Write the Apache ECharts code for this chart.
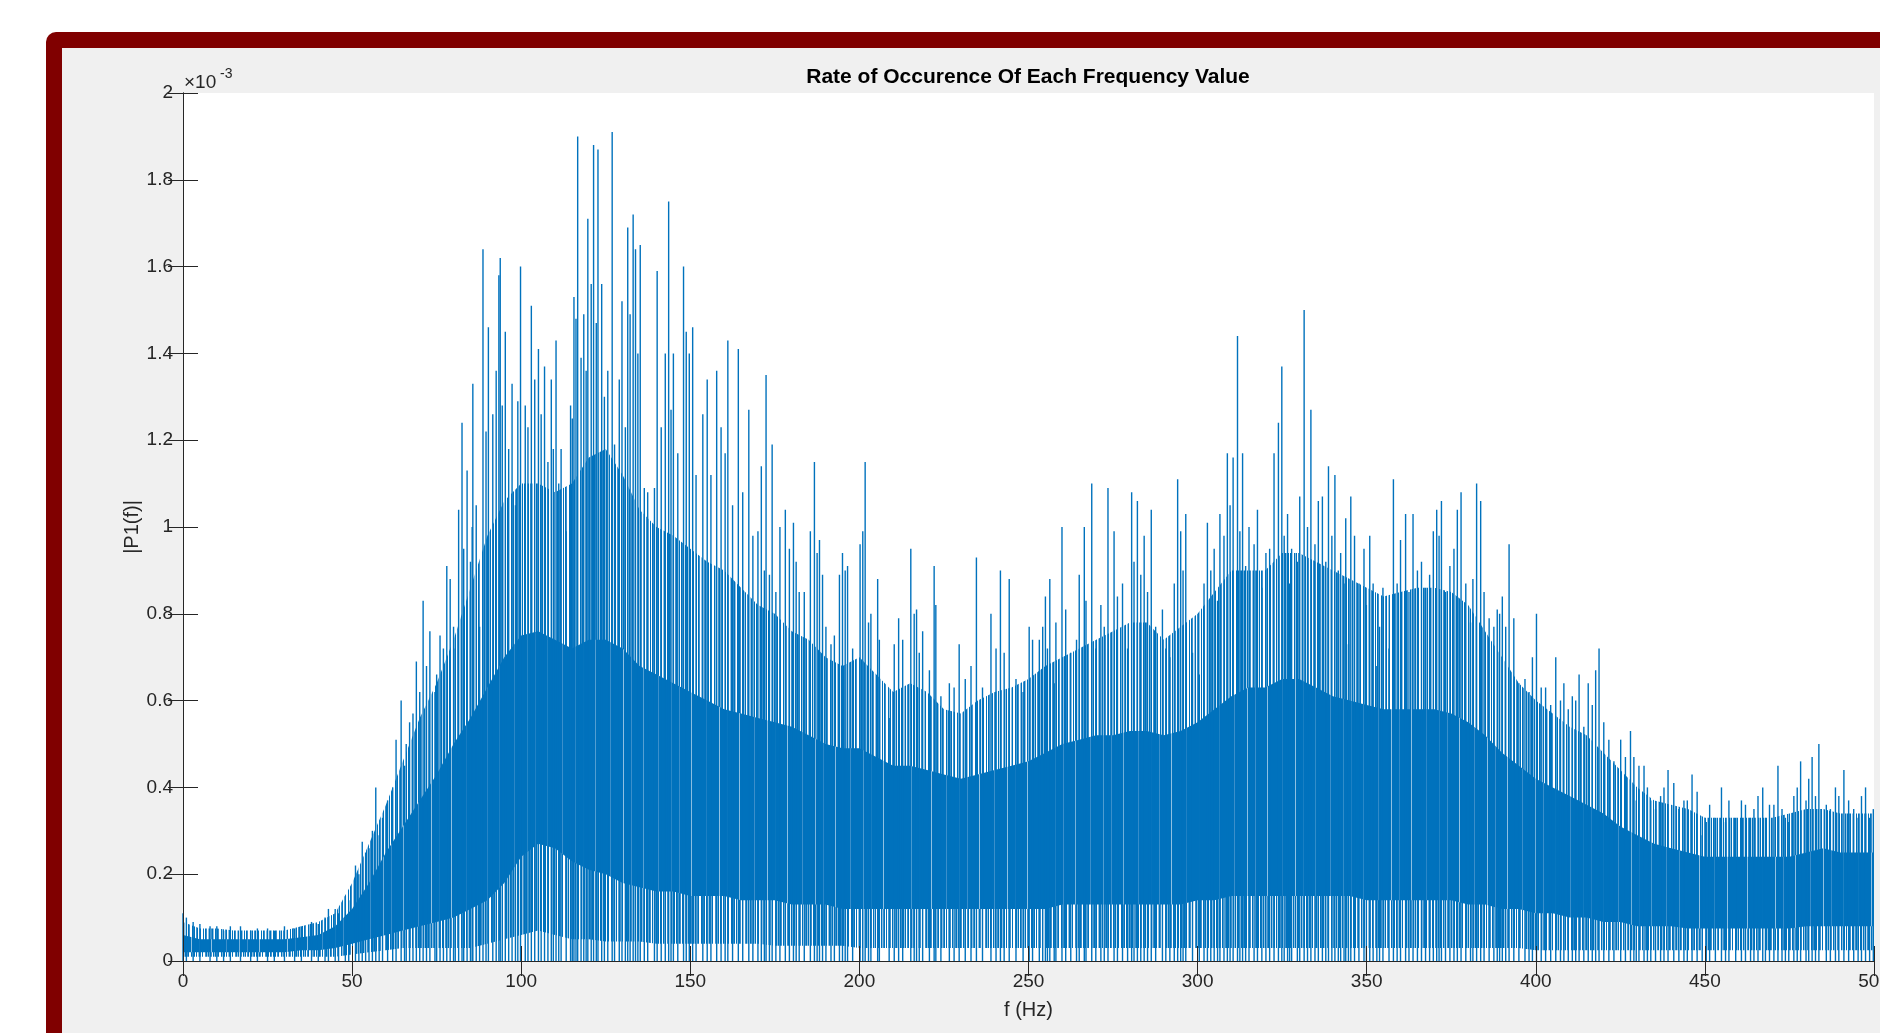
<!DOCTYPE html>
<html>
<head>
<meta charset="utf-8">
<script src="https://cdn.jsdelivr.net/npm/echarts@6/dist/echarts.min.js"></script>
<style>
  html, body { margin: 0; padding: 0; width: 1880px; height: 1033px; overflow: hidden; background: #ffffff; }
  #frame { position: absolute; left: 46px; top: 32px; width: 1900px; height: 1100px; background: #800000; border-radius: 10px; }
  #panel { position: absolute; left: 62px; top: 48px; width: 1900px; height: 1100px; background: #f0f0f0; }
  #chart { position: absolute; left: 0; top: 0; width: 1880px; height: 1033px; }
</style>
</head>
<body>
<div id="frame"></div>
<div id="panel"></div>
<div id="chart"></div>
<script>
// ---- data (amplitudes in units of 1e-3) ----
const chartTitle = 'Rate of Occurence Of Each Frequency Value';
const xName = 'f (Hz)';
const yName = '|P1(f)|';
const xTicks = [0, 50, 100, 150, 200, 250, 300, 350, 400, 450, 500];
const yTicks = [0, 0.2, 0.4, 0.6, 0.8, 1, 1.2, 1.4, 1.6, 1.8, 2];

// envelope frequencies (Hz), one every 5 Hz
const envHz = [0,5,10,15,20,25,30,35,40,45,50,55,60,65,70,75,80,85,90,95,100,105,110,115,120,125,130,135,140,145,150,155,160,165,170,175,180,185,190,195,200,205,210,215,220,225,230,235,240,245,250,255,260,265,270,275,280,285,290,295,300,305,310,315,320,325,330,335,340,345,350,355,360,365,370,375,380,385,390,395,400,405,410,415,420,425,430,435,440,445,450,455,460,465,470,475,480,485,490,495,500];
// lowest reach of the trace
const minEnv = [0.01,0.01,0.01,0.01,0.01,0.01,0.01,0.01,0.01,0.01,0.015,0.02,0.025,0.03,0.03,0.03,0.03,0.03,0.04,0.05,0.06,0.07,0.06,0.05,0.05,0.045,0.045,0.045,0.04,0.04,0.04,0.04,0.04,0.04,0.04,0.035,0.035,0.035,0.035,0.035,0.03,0.03,0.03,0.03,0.03,0.03,0.03,0.03,0.03,0.03,0.03,0.03,0.03,0.03,0.03,0.03,0.03,0.03,0.03,0.03,0.03,0.03,0.03,0.03,0.03,0.03,0.03,0.03,0.03,0.03,0.03,0.03,0.03,0.03,0.03,0.03,0.03,0.03,0.03,0.03,0.025,0.025,0.025,0.025,0.025,0.025,0.025,0.025,0.025,0.025,0.025,0.025,0.025,0.025,0.025,0.025,0.025,0.025,0.025,0.025,0.025];
// bottom of the dense core
const coreBottom = [0.02,0.02,0.02,0.02,0.02,0.02,0.02,0.025,0.025,0.03,0.04,0.05,0.06,0.07,0.08,0.09,0.1,0.12,0.14,0.18,0.24,0.27,0.26,0.23,0.21,0.2,0.18,0.17,0.16,0.16,0.15,0.15,0.15,0.14,0.14,0.14,0.13,0.13,0.13,0.12,0.12,0.12,0.12,0.12,0.12,0.12,0.12,0.12,0.12,0.12,0.12,0.12,0.13,0.13,0.13,0.13,0.13,0.13,0.13,0.13,0.14,0.14,0.15,0.15,0.15,0.15,0.15,0.15,0.15,0.15,0.14,0.14,0.14,0.14,0.14,0.14,0.13,0.13,0.12,0.12,0.11,0.11,0.1,0.1,0.09,0.09,0.08,0.08,0.08,0.075,0.075,0.075,0.075,0.075,0.075,0.075,0.08,0.08,0.08,0.08,0.08];
// top of the dense core
const coreTop = [0.06,0.05,0.05,0.05,0.05,0.05,0.05,0.055,0.06,0.08,0.12,0.18,0.25,0.31,0.37,0.43,0.5,0.56,0.63,0.7,0.75,0.76,0.74,0.72,0.74,0.74,0.72,0.68,0.66,0.64,0.62,0.6,0.58,0.57,0.56,0.55,0.54,0.52,0.5,0.49,0.49,0.47,0.45,0.45,0.44,0.43,0.42,0.43,0.44,0.45,0.46,0.48,0.5,0.51,0.52,0.52,0.53,0.53,0.52,0.53,0.55,0.58,0.61,0.63,0.63,0.65,0.65,0.63,0.61,0.6,0.59,0.58,0.58,0.58,0.58,0.57,0.55,0.52,0.48,0.45,0.42,0.4,0.38,0.36,0.34,0.31,0.29,0.27,0.26,0.25,0.24,0.24,0.24,0.24,0.24,0.24,0.25,0.26,0.25,0.25,0.25];
// top of the fringe of frequent spikes
const fringeTop = [0.09,0.075,0.075,0.07,0.07,0.07,0.07,0.08,0.09,0.11,0.18,0.27,0.36,0.46,0.56,0.64,0.74,0.86,0.98,1.06,1.1,1.1,1.08,1.1,1.16,1.18,1.12,1.04,1.0,0.98,0.95,0.92,0.9,0.86,0.82,0.8,0.76,0.74,0.7,0.68,0.7,0.66,0.62,0.64,0.62,0.58,0.57,0.6,0.62,0.63,0.65,0.68,0.7,0.72,0.74,0.76,0.78,0.78,0.74,0.77,0.8,0.85,0.9,0.9,0.9,0.94,0.94,0.92,0.9,0.88,0.86,0.84,0.85,0.86,0.86,0.85,0.82,0.76,0.7,0.64,0.6,0.57,0.54,0.52,0.48,0.44,0.4,0.37,0.36,0.35,0.33,0.33,0.33,0.33,0.33,0.34,0.35,0.35,0.34,0.34,0.34];

// individual spikes: [Hz, amplitude]
const spikes = [
  [0,0.11],[1,0.10],[3,0.09],[5,0.085],[8,0.08],[10,0.08],[12,0.07],[14,0.08],[17,0.08],[20,0.07],[22,0.075],[25,0.075],[27,0.07],[30,0.08],[33,0.075],[35,0.08],[38,0.09],[40,0.085],[42,0.10],[43,0.12],[45,0.12],[46,0.11],[48,0.15],[49,0.14],
  [51,0.22],[52,0.20],[53,0.275],[54,0.25],[55,0.26],[56,0.30],[57,0.40],[58,0.29],[59,0.33],[60.5,0.37],[62,0.40],[63,0.51],[64.5,0.60],[65.5,0.45],[66,0.50],[67,0.55],[68,0.57],[69,0.69],[70,0.62],[71,0.83],[72,0.68],[73,0.76],[74.5,0.62],[75,0.66],[76,0.75],[77,0.72],[78,0.91],[79,0.88],[80,0.77],[80.5,0.72],[81.5,1.04],[82.5,1.24],[83,0.95],[84,1.13],[85,0.92],[85.5,1.0],
  [85.7,1.33],[88.7,1.64],[90.3,1.46],[93.4,1.58],[93.8,1.62],[95.3,1.45],[97.3,1.33],[99.8,1.60],[101.2,1.28],[103,1.51],[105.1,1.41],[108.9,1.34],[110.3,1.43],[111.8,1.18],[114.6,1.28],[115.6,1.53],[116.7,1.90],[118.5,1.49],[119.7,1.71],[121.4,1.88],[122.7,1.87],[123.8,1.56],[126.9,1.91],[129.8,1.52],[131.5,1.69],[133.1,1.72],[133.8,1.64],[135.2,1.65],[136.4,1.09],[140.2,1.59],[143.6,1.75],[145,1.40],[148,1.60],[150.7,1.46],[155,1.34],[157.8,1.36],[161.1,1.43],[164.2,1.41],[167.3,1.27],[170,0.99],[171,1.14],
  [86.7,1.05],[87.7,0.77],[89.6,1.22],[91.6,1.26],[92.6,1.36],[94.4,1.28],[96.3,1.18],[98.3,1.05],[99,1.29],[102,1.23],[104,1.34],[105.9,1.26],[106.9,1.37],[107.9,1.15],[109.5,1.18],[111.1,1.10],[113.3,0.99],[115.1,1.25],[116.2,1.48],[117.7,1.39],[119.2,1.36],[120.7,1.56],[122.2,1.47],[124.6,1.30],[125.6,1.36],[127.6,1.19],[129,1.34],[130.8,1.23],[132.2,1.49],[134.5,1.40],[137.4,1.08],[139.4,1.09],[141.4,1.23],[142.6,1.40],[144.3,1.27],[146.3,1.17],[148.8,1.45],[149.7,1.40],[151.7,1.12],[153.7,1.26],[156.1,1.12],[159.1,1.23],[160.3,1.17],[162.5,1.05],[165.5,1.08],[168.5,0.98],
  [172.4,1.35],[174.2,1.19],[176.5,1.00],[178.1,1.04],[180.5,1.01],[182.2,0.85],[185.5,0.99],[186.7,1.15],[188.2,0.97],[190.1,0.77],[192.6,0.75],[195,0.94],[196.5,0.91],[200.2,0.96],[201.7,1.15],[203.4,0.80],[205.4,0.88],[208.8,0.56],[211.6,0.79],[215.2,0.95],[216.9,0.81],[218.7,0.76],[222.1,0.91],[224.1,0.61],[226.6,0.64],[229.5,0.73],[233,0.68],[234.6,0.93],[238.9,0.80],[241.7,0.90],[244.3,0.88],[248.4,0.62],[250.2,0.77],[253.2,0.74],[255,0.84],[256.3,0.88],
  [171.9,0.90],[173.4,0.89],[175.3,0.85],[179.3,0.95],[181.3,0.92],[183.7,0.85],[187.5,0.94],[189.1,0.89],[191.6,0.73],[194.1,0.89],[195.8,0.90],[198,0.72],[201,0.99],[202.7,0.78],[205.9,0.74],[210.3,0.73],[212.8,0.74],[216.2,0.80],[217.7,0.71],[220.7,0.67],[222.6,0.82],[228,0.63],[231.3,0.65],[236.4,0.63],[240.4,0.72],[242.8,0.71],[246.3,0.65],[251.2,0.74],[254.2,0.77],[255.6,0.72],
  [258.1,0.78],[259.9,1.00],[262.5,0.71],[264.2,0.74],[266.5,1.00],[268.7,1.10],[271.4,0.82],[273.5,1.09],[275.3,0.99],[277.8,0.87],[280.5,1.08],[282.2,1.06],[284.2,0.98],[286.3,1.04],[289.6,0.81],[291.8,0.70],[294.1,1.11],[295,0.99],[296.5,1.03],[300.5,0.66],[302.9,1.01],[304.9,0.95],[306.6,1.03],[308.8,1.17],[310.5,1.16],[311.8,1.44],[313.3,1.17],[315.2,1.00],[317.7,1.04],[320.2,0.94],[322.6,1.17],[323.9,1.24],[324.9,1.37],[326.6,1.03],[327.8,0.95],[330.2,1.07],[331.5,1.50],[333.5,1.27],[335.7,1.06],[336.9,1.07],[338.7,1.14],[340.6,1.12],[342.3,0.94],
  [257.6,0.64],[261,0.81],[265,0.89],[267,0.83],[269.9,0.72],[272.4,0.77],[276.3,0.84],[279.3,0.72],[281.2,0.92],[283.2,0.89],[285.2,0.85],[287.6,0.77],[290.6,0.72],[293.1,0.87],[295.7,0.90],[298.5,0.71],[301.9,0.87],[303.9,0.90],[305.9,0.83],[307.8,0.98],[309.6,1.05],[312.5,0.99],[314.2,0.91],[316.7,0.96],[319,0.86],[321.3,0.95],[325.6,0.98],[327.2,0.87],[329.5,0.92],[332.5,1.00],[334.7,0.96],[337.9,0.92],[339.7,0.98],[341.6,0.90],
  [343.8,1.02],[345.3,1.07],[346.4,0.98],[349.2,0.95],[350.9,0.98],[353,0.68],[354.8,0.86],[357.9,1.11],[360,0.97],[361.5,1.03],[363.7,1.03],[366.2,0.92],[368.6,0.89],[370.7,1.04],[372.1,1.06],[374.6,0.91],[376.8,1.04],[377.9,1.08],[381.4,0.88],[382.5,1.10],[383.7,1.06],[386.2,0.79],[388.6,0.81],[390.1,0.84],[392.1,0.96],[393.5,0.79],[396.8,0.65],[399,0.70],[400.2,0.80],[402.9,0.63],[405.9,0.70],[408.3,0.64],[410.8,0.61],[412.8,0.66],[415.5,0.64],[417.7,0.67],[418.7,0.72],[421.6,0.51],[425.1,0.51],[428,0.53],
  [343.3,0.87],[344.6,0.73],[347.7,0.87],[349.9,0.82],[351.9,0.87],[353.8,0.77],[356.6,0.72],[359,0.87],[362.5,0.85],[365,0.90],[367.4,0.86],[369.7,0.99],[371.4,0.98],[373.3,0.85],[375.8,0.95],[379.3,0.87],[380.7,0.78],[384.7,0.85],[387.6,0.77],[389.3,0.80],[391.1,0.77],[395,0.64],[398,0.62],[401.6,0.63],[404.4,0.59],[407.3,0.60],[409.6,0.58],[411.8,0.60],[414.2,0.54],[416.7,0.59],[420.1,0.55],[423.1,0.46],[426.5,0.47],
  [429,0.47],[430.5,0.45],[432,0.45],[434,0.37],[436.9,0.38],[439.1,0.44],[440.8,0.41],[443.8,0.37],[446.2,0.43],[447.7,0.39],[449.2,0.29],[451.4,0.36],[454.9,0.40],[457.1,0.37],[459.1,0.33],[460.8,0.37],[463.5,0.33],[465.7,0.38],[467.1,0.40],[469.1,0.36],[471.6,0.45],[473.8,0.33],[476.3,0.38],[478.3,0.46],[479.9,0.37],[481.7,0.47],[483.7,0.50],[485.9,0.36],[488.6,0.40],[491.1,0.44],[494,0.35],[496.3,0.38],[497.5,0.40],[499.8,0.35],
  [429.7,0.37],[433,0.40],[435.4,0.35],[437.9,0.40],[442.3,0.35],[444.8,0.37],[450.4,0.32],[453.1,0.33],[456.1,0.32],[462,0.36],[464.5,0.35],[467.9,0.33],[470.4,0.36],[472.8,0.35],[474.8,0.32],[477.3,0.40],[480.7,0.42],[482.7,0.38],[487.1,0.35],[489.6,0.38],[492.5,0.37],[495.3,0.33],[498.7,0.33]
];

// ---- chart ----
const BLUE = '#0072BD';
const AX = '#262626';
const FONT = '"Liberation Sans", Arial, Helvetica, sans-serif';

// vertical-stripe fill patterns that imitate a dense 1-px trace (style only)
// B = trace blue, L = anti-aliased light blue, M = mid blue, . = white
function stripes(code) {
  const c = document.createElement('canvas');
  c.width = code.length; c.height = 4;
  const g = c.getContext('2d');
  const col = { 'B': BLUE, 'M': '#3b8fcb', 'L': '#8fc0e2', '.': '#ffffff' };
  for (let i = 0; i < code.length; i++) {
    g.fillStyle = col[code[i]];
    g.fillRect(i, 0, 1, 4);
  }
  return { image: c, repeat: 'repeat' };
}
const fringeFill = stripes('B.BM.LB.MBL.B.BM..BLB.MB.LB..');
const lowerFill  = stripes('BM.BLB.MB..BLMB.B.LBM.B..MBLB.');
const coreFill   = stripes('BBBBBBBMBBBBBBBBBBBLBBBBBBBBBBBBBBMBBBBBBBBBBBBL');

function pairs(arr) { return envHz.map((h, i) => [h, arr[i]]); }
function band(name, arr, color) {
  return {
    name: name, type: 'line', data: pairs(arr), showSymbol: false, silent: true,
    lineStyle: { width: 0 }, areaStyle: { color: color, opacity: 1, origin: 'start' },
    itemStyle: { color: BLUE }, animation: false, z: 2
  };
}

const chart = echarts.init(document.getElementById('chart'), null, { renderer: 'canvas' });
const axisCommon = {
  type: 'value', min: 0, splitLine: { show: false },
  axisLine: { show: true, lineStyle: { color: AX, width: 1 } },
  axisTick: { show: true, inside: true, length: 15, lineStyle: { color: AX, width: 1 } },
  z: 10
};
chart.setOption({
  animation: false,
  backgroundColor: 'transparent',
  textStyle: { fontFamily: FONT },
  title: {
    text: chartTitle, left: 1028, top: 67, textAlign: 'center', padding: 0,
    textStyle: { fontFamily: FONT, fontSize: 21, fontWeight: 'bold', color: '#000' }
  },
  graphic: [
    { type: 'text', left: 184, top: 73, style: { text: '\u00d710', fontFamily: FONT, fontSize: 19, fill: AX } },
    { type: 'text', left: 220, top: 67, style: { text: '-3', fontFamily: FONT, fontSize: 14, fill: AX } }
  ],
  grid: { left: 183, top: 93, right: 6, bottom: 72, show: true, backgroundColor: '#ffffff', borderWidth: 0,
    containLabel: false, outerBoundsMode: 'none' },
  xAxis: [
    Object.assign({}, axisCommon, {
      position: 'bottom', max: 500, interval: 50,
      axisLabel: { show: true, fontSize: 19, color: AX, margin: 11, fontFamily: FONT },
      name: xName, nameLocation: 'middle', nameGap: 39,
      nameTextStyle: { fontSize: 20, color: AX, fontFamily: FONT }
    }),
    Object.assign({}, axisCommon, { position: 'top', max: 500, interval: 50, axisLabel: { show: false } })
  ],
  yAxis: [
    Object.assign({}, axisCommon, {
      position: 'left', max: 2, interval: 0.2,
      axisLabel: { show: true, fontSize: 19, color: AX, margin: 10, fontFamily: FONT,
        formatter: v => String(+v.toFixed(1)) },
      name: yName, nameLocation: 'middle', nameGap: 41, nameRotate: 90, nameMoveOverlap: false,
      nameTextStyle: { fontSize: 20, color: AX, fontFamily: FONT }
    }),
    Object.assign({}, axisCommon, { position: 'right', max: 2, interval: 0.2, axisLabel: { show: false } })
  ],
  series: [
    band('fringe', fringeTop, fringeFill),
    band('core', coreTop, coreFill),
    band('lower', coreBottom, lowerFill),
    band('floor', minEnv, '#ffffff'),
    {
      name: 'spikes', type: 'custom', data: spikes, z: 3, silent: true, animation: false,
      encode: { x: 0, y: 1 },
      renderItem: function (params, api) {
        const x = api.value(0), v = api.value(1);
        const p0 = api.coord([x, 0]);
        const p1 = api.coord([x, v]);
        return { type: 'line', shape: { x1: p0[0], y1: p0[1], x2: p1[0], y2: p1[1] },
          style: { stroke: BLUE, lineWidth: 1.4 } };
      }
    }
  ]
});
</script>
</body>
</html>
